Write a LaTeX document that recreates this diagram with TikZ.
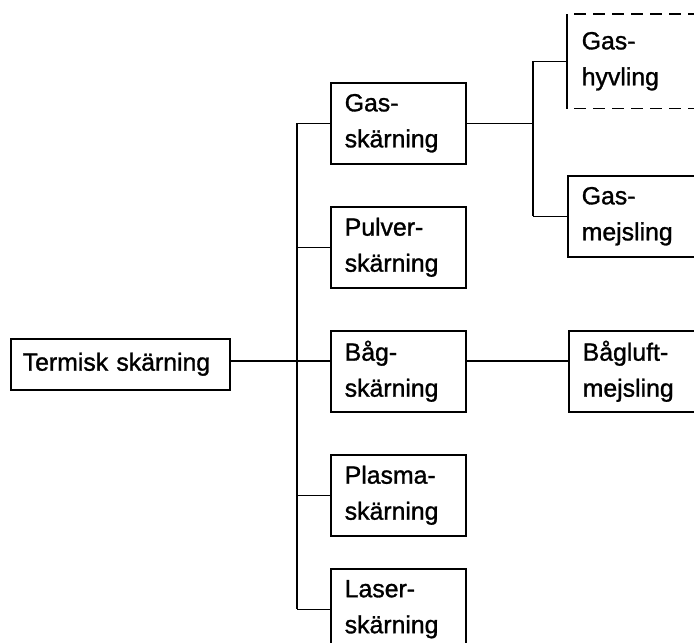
\documentclass[tikz,border=0pt]{standalone}
\usepackage{fontspec}
\setmainfont[FakeBold=1.2]{Liberation Sans}
\begin{document}
\begin{tikzpicture}[x=1pt,y=-1pt,
  boxtext/.style={font=\fontsize{24.8}{36}\selectfont},
  box/.style={draw, line width=1.5pt, minimum width=135pt, minimum height=81pt,
    inner xsep=14pt, inner ysep=0pt, text width=107pt, align=left, anchor=north west, boxtext},
  openbox/.style={box, draw=none, minimum height=93pt},
  rootbox/.style={draw, line width=1.5pt, minimum width=219pt, minimum height=51pt,
    inner xsep=12pt, inner ysep=0pt, text width=195pt, align=left, anchor=north west, boxtext},
  link/.style={line width=1.5pt},
  dashedge/.style={line width=1.5pt, dash pattern=on 12pt off 7pt, dash phase=12pt}]
\useasboundingbox (0,0) rectangle (694,643);
\clip (0,0) rectangle (694,643);

\node[rootbox] (T) at (10,338) {Termisk skärning};
\node[box] (G) at (330,82) {Gas-\\skärning};
\node[box] (P) at (330,206) {Pulver-\\skärning};
\node[box] (B) at (330,330) {Båg-\\skärning};
\node[box] (Pl) at (330,454) {Plasma-\\skärning};
\node[box] (L) at (330,568) {Laser-\\skärning};
\node[openbox] (GH) at (567,14) {Gas-\\hyvling};
\node[box] (GM) at (567,175) {Gas-\\mejsling};
\node[box] (BL) at (568,330) {Bågluft-\\mejsling};

\coordinate (trunk) at (297,0);
\coordinate (fork) at (533,0);
\coordinate (mid) at (0,361);

% dashed box edges
\draw[dashedge] (GH.north west) -- (GH.north east);
\draw[dashedge] (GH.south west) -- (GH.south east);
\draw[link] (GH.north west) -- (GH.south west);

% root to trunk
\draw[link] (T.east |- mid) -- (B.west |- mid);
\draw[link] (G.west -| trunk) -- (L.west -| trunk);
\draw[link] (G.west) -- (G.west -| trunk);
\draw[link] (P.west) -- (P.west -| trunk);
\draw[link] (Pl.west) -- (Pl.west -| trunk);
\draw[link] (L.west) -- (L.west -| trunk);

% gas branch
\draw[link] (G.east) -- (G.east -| fork);
\draw[link] (GH.west -| fork) -- (GM.west -| fork);
\draw[link] (GH.west) -- (GH.west -| fork);
\draw[link] (GM.west) -- (GM.west -| fork);

% båg branch
\draw[link] (B.east |- mid) -- (BL.west |- mid);
\end{tikzpicture}
\end{document}
